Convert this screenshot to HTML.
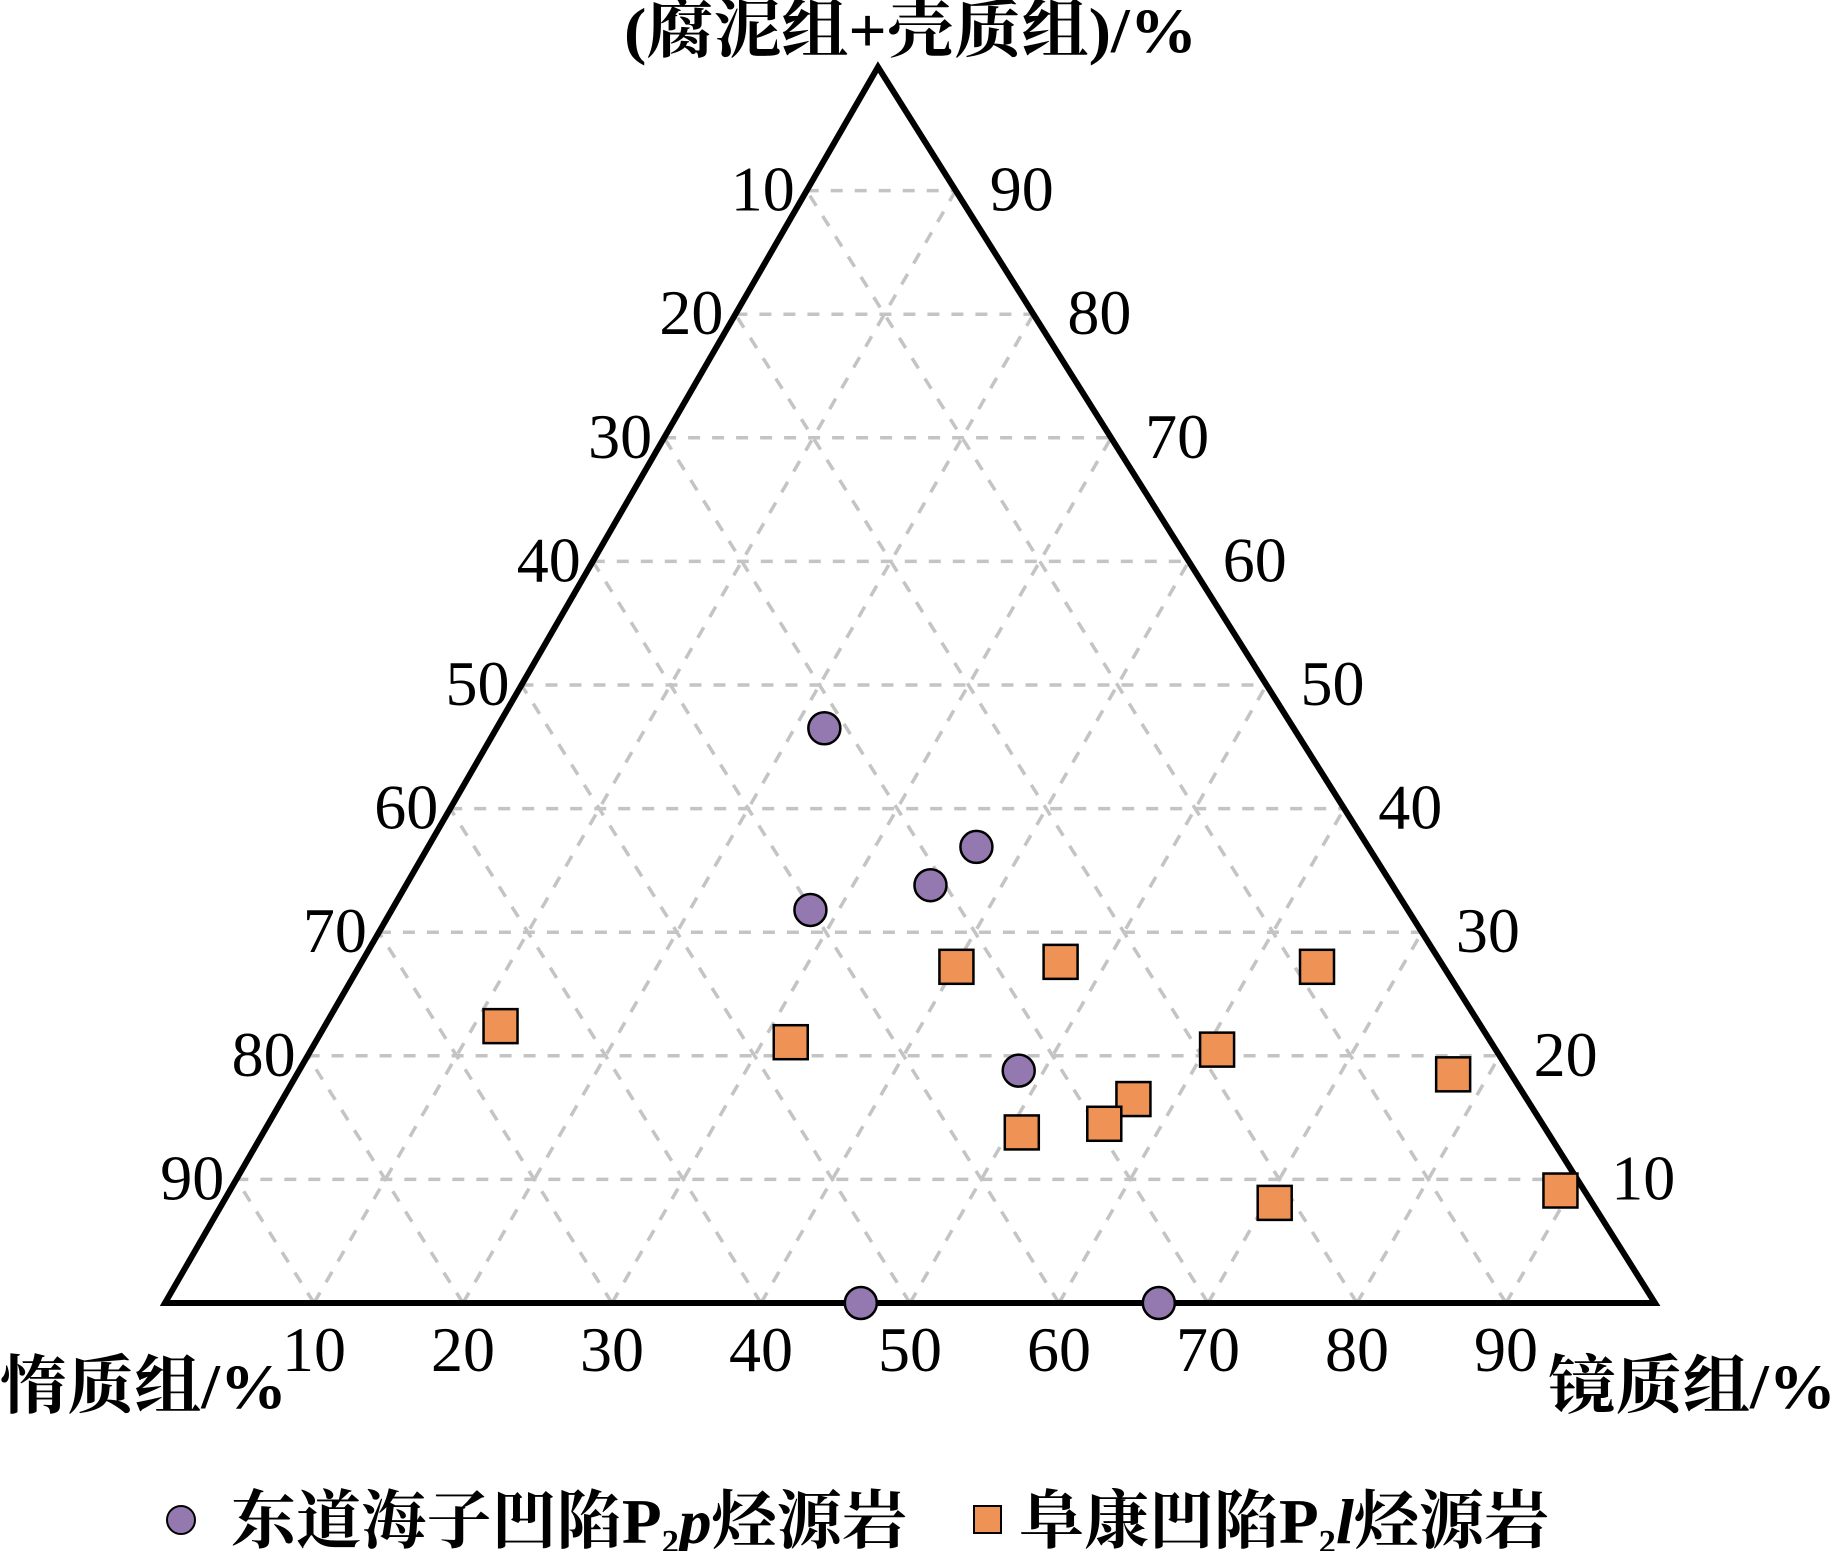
<!DOCTYPE html>
<html><head><meta charset="utf-8"><style>
html,body{margin:0;padding:0;background:#fff;}
svg{display:block;}
text{font-family:"Liberation Serif","Noto Serif CJK SC",serif;fill:#000;}
</style></head><body>
<svg id="chart" width="1836" height="1551" viewBox="0 0 1836 1551" xmlns="http://www.w3.org/2000/svg">
<g id="grid"></g>
<polygon points="878,67 165,1303 1655,1303" fill="none" stroke="#000" stroke-width="6" stroke-linejoin="miter"/>
<g id="labels"></g>
<g id="marks"></g>
<text x="624" y="52" font-size="64" font-weight="bold" textLength="573" lengthAdjust="spacingAndGlyphs">(腐泥组+壳质组)/%</text>
<text x="0" y="1408" font-size="64" font-weight="bold" textLength="287" lengthAdjust="spacingAndGlyphs">惰质组/%</text>
<text x="1548" y="1408" font-size="64" font-weight="bold" textLength="288" lengthAdjust="spacingAndGlyphs">镜质组/%</text>
<g>
<circle cx="181" cy="1520" r="14" fill="#9479b0" stroke="#000" stroke-width="2"/>
<text x="231" y="1543" font-size="64" font-weight="bold" textLength="676" lengthAdjust="spacingAndGlyphs">东道海子凹陷P<tspan font-size="34" dy="10">2</tspan><tspan dy="-10" font-style="italic">p</tspan>烃源岩</text>
<rect x="974" y="1506" width="27" height="27" fill="#ee9256" stroke="#000" stroke-width="2"/>
<text x="1019" y="1543" font-size="64" font-weight="bold" textLength="530" lengthAdjust="spacingAndGlyphs">阜康凹陷P<tspan font-size="34" dy="10">2</tspan><tspan dy="-10" font-style="italic">l</tspan>烃源岩</text>
</g>
</svg>
<script>
// ternary data: T = (腐泥组+壳质组)%, V = 镜质组%, I = 100 - T - V
const ticks = [10,20,30,40,50,60,70,80,90];
const dongdaoT = [46.5, 36.9, 33.8, 31.8, 18.8, 0, 0];
const dongdaoV = [22.0, 36.8, 35.2, 28.1, 48.3, 46.7, 66.7];
const fukangT = [22.4, 21.1, 27.2, 27.6, 27.2, 20.5, 18.5, 16.5, 14.5, 13.8, 8.1, 9.1];
const fukangV = [11.8, 31.9, 40.1, 46.9, 64.3, 60.8, 77.6, 57.1, 56.1, 50.9, 70.6, 89.3];

const A = {x:878, y:67}, L = {x:165, y:1303}, R = {x:1655, y:1303};
const NS = "http://www.w3.org/2000/svg";
function pos(T, V){
  const t = T/100, v = V/100, i = 1 - t - v;
  return {x: t*A.x + i*L.x + v*R.x, y: t*A.y + i*L.y + v*R.y};
}
const grid = document.getElementById('grid');
function line(p, q, name){
  const l = document.createElementNS(NS, 'line');
  
  
  l.setAttribute('x1', p.x); l.setAttribute('y1', p.y);
  l.setAttribute('x2', q.x); l.setAttribute('y2', q.y);
  l.setAttribute('stroke', '#c4c4c4'); l.setAttribute('stroke-width', '3.5');
  l.setAttribute('stroke-dasharray', '12 12');
  grid.appendChild(l);
}
ticks.forEach(k => {
  line(pos(k, 0), pos(k, 100-k), 'gridline-t-' + k);
  line(pos(0, k), pos(100-k, k), 'gridline-v-' + k);
  line(pos(0, 100-k), pos(100-k, 0), 'gridline-i-' + k);
});
const labels = document.getElementById('labels');
function txt(x, y, s, anchor, name){
  const t = document.createElementNS(NS, 'text');
  
  
  t.setAttribute('x', x); t.setAttribute('y', y);
  t.setAttribute('font-size', '64');
  t.setAttribute('text-anchor', anchor);
  t.textContent = s;
  labels.appendChild(t);
}
ticks.forEach(k => {
  const pl = pos(100-k, 0);
  txt(pl.x - 12, pl.y + 20, String(k), 'end', 'left-tick-' + k);
  const pr = pos(k, 100-k);
  txt(pr.x + 34, pr.y + 20, String(k), 'start', 'right-tick-' + k);
  const pb = pos(0, k);
  txt(pb.x, pb.y + 68, String(k), 'middle', 'bottom-tick-' + k);
});
const marks = document.getElementById('marks');
dongdaoT.forEach((T, i) => {
  const p = pos(T, dongdaoV[i]);
  const c = document.createElementNS(NS, 'circle');
  
  
  c.setAttribute('cx', p.x); c.setAttribute('cy', p.y); c.setAttribute('r', 16);
  c.setAttribute('fill', '#9479b0'); c.setAttribute('stroke', '#000'); c.setAttribute('stroke-width', '2.5');
  marks.appendChild(c);
});
fukangT.forEach((T, i) => {
  const p = pos(T, fukangV[i]);
  const r = document.createElementNS(NS, 'rect');
  
  
  r.setAttribute('x', p.x - 17); r.setAttribute('y', p.y - 17);
  r.setAttribute('width', 34); r.setAttribute('height', 34);
  r.setAttribute('fill', '#ee9256'); r.setAttribute('stroke', '#000'); r.setAttribute('stroke-width', '2.5');
  marks.appendChild(r);
});
</script>
</body></html>
